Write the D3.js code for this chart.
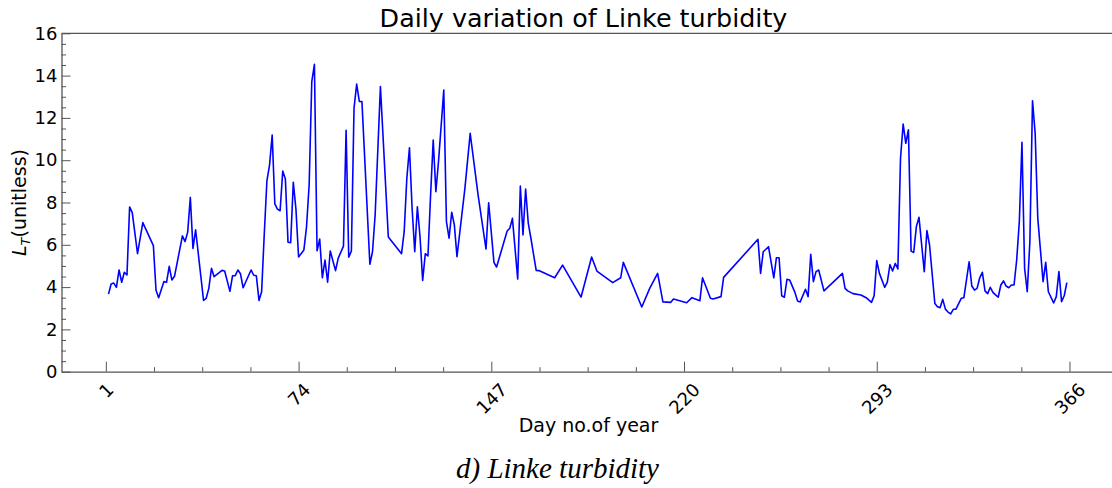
<!DOCTYPE html>
<html>
<head>
<meta charset="utf-8">
<script src="https://cdn.jsdelivr.net/npm/d3@7"></script>
<style>
  body { margin: 0; background: #fff; }
  text { font-family: "DejaVu Sans", sans-serif; fill: #000; }
</style>
</head>
<body>
<svg width="1112" height="488"></svg>
<script>
// day of year (x) and Linke turbidity (y)
const days = [2, 3, 4, 5, 6, 7, 8, 9, 10, 11, 13, 15, 19, 20, 21, 23, 24, 25, 26, 27,
  30, 31, 32, 33, 34, 35, 38, 39, 40, 41, 42, 45, 46, 48, 49, 50, 51, 52, 53, 56,
  57, 58, 59, 60, 61, 62, 63, 64, 65, 66, 67, 68, 69, 70, 71, 72, 73, 74, 76, 77,
  78, 79, 80, 81, 82, 83, 84, 85, 86, 88, 89, 91, 92, 93, 94, 95, 96, 97, 98, 101,
  102, 103, 105, 108, 113, 114, 115, 116, 117, 118, 119, 120, 121, 122, 123, 124, 125, 126, 127, 129,
  130, 131, 132, 133, 134, 137, 139, 142, 145, 146, 148, 149, 153, 154, 155, 157, 158, 159, 160, 161,
  162, 164, 165, 171, 174, 181, 185, 187, 193, 196, 197, 204, 207, 210, 212, 215, 216, 221, 223, 226,
  227, 230, 231, 234, 235, 248, 249, 250, 252, 254, 255, 256, 257, 258, 259, 260, 262, 263, 264, 266,
  267, 268, 269, 270, 271, 273, 280, 281, 282, 284, 287, 289, 291, 292, 293, 294, 296, 297, 298, 299,
  300, 301, 302, 303, 304, 305, 306, 307, 308, 309, 311, 312, 313, 315, 316, 317, 318, 319, 320, 321,
  322, 323, 325, 326, 328, 329, 330, 331, 332, 333, 334, 335, 336, 337, 338, 339, 340, 341, 342, 343,
  344, 345, 346, 347, 348, 349, 350, 351, 352, 353, 354, 356, 357, 358, 360, 361, 362, 363, 364, 365];

const turbidity = [3.67, 4.15, 4.19, 3.99, 4.81, 4.23, 4.70, 4.57, 7.79, 7.52, 5.58, 7.05, 5.96, 3.85, 3.50, 4.26, 4.23, 4.98, 4.34, 4.51,
  6.42, 6.15, 6.60, 8.24, 5.83, 6.71, 3.37, 3.47, 3.94, 4.89, 4.49, 4.79, 4.76, 3.80, 4.54, 4.54, 4.81, 4.63, 3.97, 4.81,
  4.56, 4.54, 3.37, 3.78, 6.50, 9.02, 9.77, 11.19, 7.93, 7.69, 7.61, 9.49, 9.11, 6.12, 6.10, 8.95, 7.69, 5.42, 5.75, 6.84,
  8.83, 13.71, 14.53, 5.72, 6.27, 4.44, 5.28, 4.23, 5.71, 4.78, 5.36, 5.94, 11.41, 5.41, 5.71, 12.45, 13.60, 12.78, 12.77, 5.08,
  5.67, 7.41, 13.48, 6.37, 5.58, 6.62, 9.14, 10.59, 7.72, 5.67, 7.80, 6.38, 4.32, 5.58, 5.47, 8.35, 10.95, 8.51, 9.93, 13.32,
  7.09, 6.31, 7.54, 6.94, 5.44, 8.67, 11.27, 8.35, 5.80, 7.99, 5.17, 4.95, 6.65, 6.78, 7.25, 4.38, 8.78, 6.46, 8.64, 7.02,
  6.31, 4.79, 4.78, 4.44, 5.04, 3.53, 5.42, 4.76, 4.21, 4.44, 5.17, 3.06, 3.94, 4.65, 3.30, 3.28, 3.44, 3.26, 3.50, 3.36,
  4.44, 3.47, 3.44, 3.55, 4.46, 6.26, 4.65, 5.67, 5.91, 4.44, 5.39, 5.39, 3.59, 3.52, 4.37, 4.34, 3.75, 3.34, 3.30, 3.90,
  3.55, 5.55, 4.26, 4.73, 4.81, 3.82, 4.65, 3.94, 3.82, 3.69, 3.63, 3.50, 3.28, 3.59, 5.25, 4.65, 3.99, 4.23, 5.06, 4.76,
  5.12, 4.86, 10.09, 11.71, 10.80, 11.44, 5.70, 5.64, 6.86, 7.30, 4.73, 6.67, 5.99, 3.23, 3.07, 3.03, 3.42, 2.96, 2.82, 2.73,
  2.95, 2.96, 3.47, 3.50, 5.20, 4.05, 3.86, 3.94, 4.44, 4.70, 3.82, 3.69, 3.99, 3.75, 3.63, 3.52, 4.10, 4.29, 4.05, 3.97,
  4.10, 4.10, 5.28, 7.09, 10.85, 4.89, 3.78, 6.15, 12.81, 11.27, 7.25, 4.26, 5.17, 3.78, 3.25, 3.55, 4.73, 3.31, 3.59, 4.21];

const xTicks = [1, 74, 147, 220, 293, 366];
const yTicks = [0, 2, 4, 6, 8, 10, 12, 14, 16];

var svg = d3.select("svg");
const plotLeft = 61.5, plotRight = 1117, plotTop = 33.3, plotBottom = 371.7;
const axisColor = "#555";

var x = d3.scaleLinear().domain([-15.8, 384]).range([plotLeft, plotRight]);
var y = d3.scaleLinear().domain([0, 16]).range([plotBottom, plotTop]);

// minor ticks: 4 steps between majors
const xMinor = d3.range(1, 366, 73 / 4).filter(d => !xTicks.includes(d));
const yMinor = d3.range(0, 16, 0.5).filter(d => d % 2 !== 0);

// minor ticks first so major ones sit on top
svg.append("g")
    .attr("transform", `translate(0,${plotBottom})`)
    .call(d3.axisBottom(x).tickValues(xMinor).tickSizeInner(-4.5).tickSizeOuter(0).tickFormat(""))
    .call(g => g.select(".domain").remove())
    .call(g => g.selectAll("line").attr("stroke", axisColor));
svg.append("g")
    .attr("transform", `translate(${plotLeft},0)`)
    .call(d3.axisLeft(y).tickValues(yMinor).tickSizeInner(-4.5).tickSizeOuter(0).tickFormat(""))
    .call(g => g.select(".domain").remove())
    .call(g => g.selectAll("line").attr("stroke", axisColor));

// x axis
var xAxis = svg.append("g")
    .attr("transform", `translate(0,${plotBottom})`)
    .call(d3.axisBottom(x).tickValues(xTicks).tickSizeInner(-10).tickSizeOuter(0));
xAxis.select(".domain").attr("stroke", axisColor).attr("stroke-width", 1.3);
xAxis.selectAll("line").attr("stroke", axisColor);
xAxis.selectAll("text")
    .attr("font-size", 18)
    .attr("font-family", "DejaVu Sans")
    .attr("fill", "#000")
    .attr("text-anchor", "middle")
    .attr("y", 0)
    .attr("dy", "0.35em")
    .attr("transform", function () {
        const w = this.getComputedTextLength();
        const h = 18 * 0.75;
        const off = 10 + (w + h) / (2 * Math.SQRT2);
        return `translate(0,${off}) rotate(-45)`;
    });

// y axis
var yAxis = svg.append("g")
    .attr("transform", `translate(${plotLeft},0)`)
    .call(d3.axisLeft(y).tickValues(yTicks).tickSizeInner(-9).tickSizeOuter(0).tickPadding(4));
yAxis.select(".domain").attr("stroke", axisColor).attr("stroke-width", 1.3);
yAxis.selectAll("line").attr("stroke", axisColor);
yAxis.selectAll("text")
    .attr("font-size", 18)
    .attr("font-family", "DejaVu Sans")
    .attr("fill", "#000")
    .attr("x", -4);

// top spine
svg.append("line")
    .attr("x1", plotLeft).attr("x2", plotRight)
    .attr("y1", plotTop).attr("y2", plotTop)
    .attr("stroke", axisColor).attr("stroke-width", 1.3);

// the series
var line = d3.line()
    .x((d, i) => x(days[i]))
    .y(d => y(d));

svg.append("path")
    .datum(turbidity)
    .attr("fill", "none")
    .attr("stroke", "#0000ff")
    .attr("stroke-width", 1.6)
    .attr("stroke-linejoin", "round")
    .attr("d", line);

// titles
svg.append("text")
    .attr("x", 583.5)
    .attr("y", 27)
    .attr("text-anchor", "middle")
    .attr("font-size", 25.4)
    .text("Daily variation of Linke turbidity");

svg.append("text")
    .attr("x", 588.5)
    .attr("y", 432)
    .attr("text-anchor", "middle")
    .attr("font-size", 19)
    .text("Day no.of year");

var ylab = svg.append("text")
    .attr("transform", `translate(26,${(plotTop + plotBottom) / 2}) rotate(-90)`)
    .attr("text-anchor", "middle")
    .attr("font-size", 19);
ylab.append("tspan").attr("font-style", "italic").text("L");
ylab.append("tspan").attr("font-style", "italic").attr("font-size", 13).attr("dy", 4).text("T");
ylab.append("tspan").attr("dy", -4).text("(unitless)");

svg.append("text")
    .attr("x", 557.5)
    .attr("y", 478)
    .attr("text-anchor", "middle")
    .style("font-family", "'Liberation Serif', serif")
    .attr("font-style", "italic")
    .attr("font-size", 29)
    .text("d) Linke turbidity");
</script>
</body>
</html>
